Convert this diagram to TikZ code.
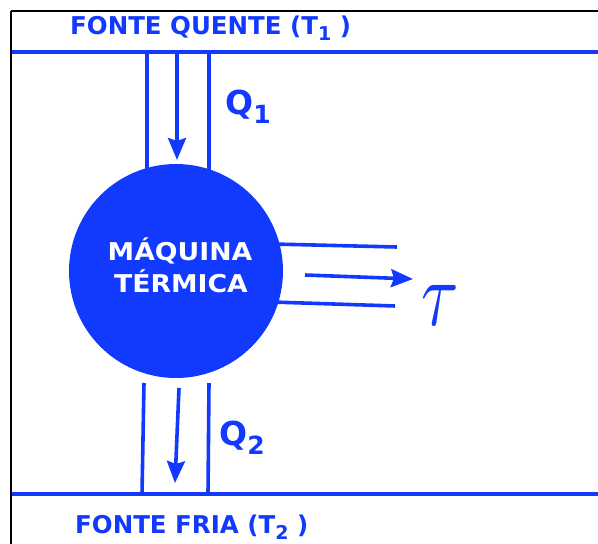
\documentclass[tikz,border=0pt]{standalone}
\usepackage{fontspec}
\setmainfont{DejaVu Sans}
\usetikzlibrary{arrows.meta}
\definecolor{eblue}{RGB}{18,58,255}
\tikzset{
  pipe/.style={draw=eblue,line width=3.6pt},
  flow/.style={draw=eblue,line width=3.6pt,-{Stealth[length=22pt,width=18pt,inset=3pt]}},
  frameline/.style={draw=black,line width=2.4pt},
  srclabel/.style={anchor=base west,inner sep=0pt,text=eblue,font=\bfseries\fontsize{24.5}{26}\selectfont},
  qlabel/.style={anchor=base west,inner sep=0pt,text=eblue,font=\bfseries\fontsize{33}{36}\selectfont},
}
\begin{document}
\begin{tikzpicture}[x=1pt,y=-1pt]
\useasboundingbox (0,0) rectangle (598,544);
% frame
\draw[frameline] (11,11) -- (598,11);
\draw[frameline] (11,11) -- (11,544);
% reservoirs
\coordinate (hotL) at (12,52);
\coordinate (hotR) at (598,52);
\coordinate (coldL) at (12,494);
\coordinate (coldR) at (598,494);
\draw[pipe] (hotL) -- (hotR);
\draw[pipe] (coldL) -- (coldR);
\node[srclabel] (hot) at (70,34) {FONTE QUENTE (T\raisebox{-0.28em}{\fontsize{19}{20}\selectfont 1} )};
\node[srclabel] (cold) at (75,533) {FONTE FRIA (T\raisebox{-0.28em}{\fontsize{19}{20}\selectfont 2} )};
% top channel
\coordinate (t1a) at (147,52); \coordinate (t1b) at (147,172);
\coordinate (t2a) at (209,52); \coordinate (t2b) at (209,172);
\coordinate (ta) at (177,52); \coordinate (tb) at (177,160);
\draw[pipe] (t1a) -- (t1b);
\draw[pipe] (t2a) -- (t2b);
\draw[flow] (ta) -- (tb);
% bottom channel
\coordinate (b1a) at (144,383); \coordinate (b1b) at (142,494);
\coordinate (b2a) at (209,383); \coordinate (b2b) at (208,494);
\coordinate (ba) at (179,388); \coordinate (bb) at (175,483);
\draw[pipe] (b1a) -- (b1b);
\draw[pipe] (b2a) -- (b2b);
\draw[flow] (ba) -- (bb);
% work output
\coordinate (w1a) at (272,244); \coordinate (w1b) at (397,247);
\coordinate (w2a) at (272,302); \coordinate (w2b) at (395,306);
\coordinate (wa) at (305,275); \coordinate (wb) at (413,279);
\draw[pipe] (w1a) -- (w1b);
\draw[pipe] (w2a) -- (w2b);
\draw[flow] (wa) -- (wb);
% engine
\node[circle,fill=eblue,minimum size=214pt,inner sep=0pt] (engine) at (176,271) {};
\node[anchor=base,inner sep=0pt,text=white,xscale=1.09,font=\bfseries\fontsize{24.5}{26}\selectfont] (m1) at (180,260) {MÁQUINA};
\node[anchor=base,inner sep=0pt,text=white,xscale=1.09,font=\bfseries\fontsize{24.5}{26}\selectfont] (m2) at (181,292) {TÉRMICA};
% labels
\node[qlabel] (q1) at (225,114) {Q\raisebox{-0.3em}{\fontsize{25}{26}\selectfont 1}};
\node[qlabel] (q2) at (219,445) {Q\raisebox{-0.3em}{\fontsize{25}{26}\selectfont 2}};
\node[anchor=base west,inner sep=0pt,text=eblue] (tau) at (421,325) {\scalebox{6.8}[9.3]{$\tau$}};
\end{tikzpicture}
\end{document}
